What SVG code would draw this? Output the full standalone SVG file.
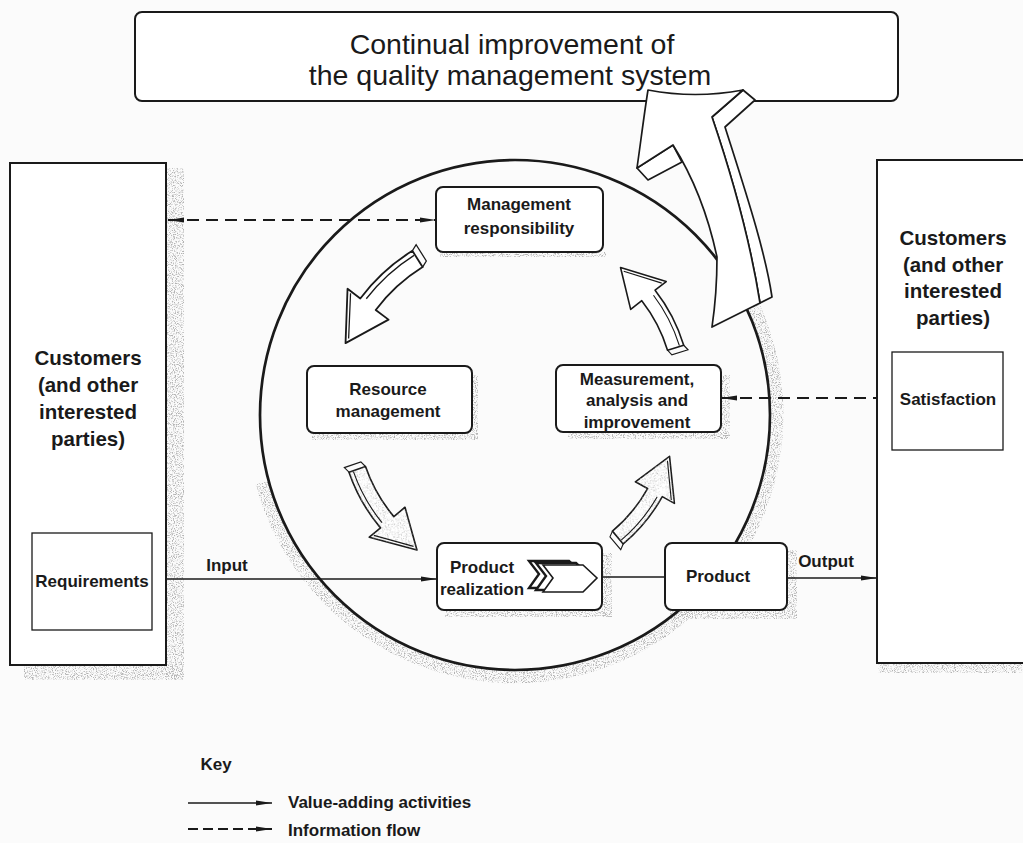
<svg xmlns="http://www.w3.org/2000/svg" width="1023" height="843" viewBox="0 0 1023 843">
<defs>
<style>
.bx{fill:#fff;stroke:#1a1a1a;stroke-width:2}
.sq{fill:#fff;stroke:#1a1a1a;stroke-width:1.3}
.t{font-family:"Liberation Sans",Arial,sans-serif;font-weight:bold;font-size:17px;fill:#1a1a1a;text-anchor:middle}
.tb{font-family:"Liberation Sans",Arial,sans-serif;font-weight:bold;font-size:20.5px;fill:#1a1a1a;text-anchor:middle}
.tt{font-family:"Liberation Sans",Arial,sans-serif;font-size:28.5px;fill:#1a1a1a;text-anchor:middle}
.ln{stroke:#1a1a1a;stroke-width:1.5;fill:none}
.dl{stroke:#1a1a1a;stroke-width:2;fill:none;stroke-dasharray:12 7}
.sh{fill:#888;filter:url(#grain)}
.ar{fill:#fff;stroke:#1a1a1a;stroke-width:1.7;stroke-linejoin:round}
.ad{fill:none;stroke:#1a1a1a;stroke-width:1.2}
</style>
<filter id="grain" x="-5%" y="-5%" width="110%" height="110%">
<feTurbulence type="fractalNoise" baseFrequency="0.9" numOctaves="2" seed="4" result="n"/>
<feColorMatrix in="n" type="matrix" values="0 0 0 0 0.45  0 0 0 0 0.45  0 0 0 0 0.45  0 0 0 4 -1.9" result="d"/>
<feComposite in="d" in2="SourceAlpha" operator="in"/>
</filter>
<filter id="grainfill" x="0" y="0" width="100%" height="100%">
<feTurbulence type="fractalNoise" baseFrequency="0.9" numOctaves="2" seed="9" result="n"/>
<feColorMatrix in="n" type="matrix" values="0 0 0 0 0.5  0 0 0 0 0.5  0 0 0 0 0.5  0 0 0 3 -1.5" result="d"/>
<feComposite in="d" in2="SourceAlpha" operator="in"/>
</filter>
<marker id="ah" viewBox="0 0 16 6" markerWidth="16" markerHeight="6" refX="16" refY="3" orient="auto-start-reverse" markerUnits="userSpaceOnUse">
<path d="M0,0.4 L16,3 L0,5.6 Z" fill="#1a1a1a"/>
</marker>
<path id="cshape" d="M 181,0 A 181 181 0 0 0 169.0,-64.9 L 183.0,-70.2 L 140.9,-98.7 L 138.2,-53.0 L 152.2,-58.4 A 163 163 0 0 1 163,0 Z"/>
<g id="carrow">
<use href="#cshape" class="ar"/>
<path class="ad" d="M 176.5,-1 A 176.5 176.5 0 0 0 165.8,-60.3 M 163,0 L 166,6 L 184,6 L 181,0 M 178,-70 L 143,-94"/>
</g>
<g id="carrowg">
<use href="#cshape" class="ar"/>
<use href="#cshape" fill="#999" filter="url(#grainfill)"/>
<path class="ad" d="M 176.5,-1 A 176.5 176.5 0 0 0 165.8,-60.3 M 163,0 L 166,6 L 184,6 L 181,0 M 178,-70 L 143,-94"/>
</g>
</defs>
<rect x="0" y="0" width="1023" height="843" fill="#fbfbfb"/>

<g id="shadows">
<rect class="sh" x="166" y="168" width="18" height="512"/>
<rect class="sh" x="24" y="665" width="160" height="15"/>
<rect class="sh" x="878" y="663" width="145" height="10"/>
<rect class="sh" x="440" y="252" width="166" height="5"/>
<rect class="sh" x="312" y="433" width="166" height="7"/>
<rect class="sh" x="472" y="375" width="6" height="65"/>
<rect class="sh" x="568" y="432" width="160" height="7"/>
<rect class="sh" x="721" y="375" width="9" height="64"/>
<rect class="sh" x="445" y="610" width="167" height="7"/>
<rect class="sh" x="602" y="553" width="10" height="64"/>
<rect class="sh" x="670" y="610" width="127" height="9"/>
<rect class="sh" x="787" y="550" width="10" height="69"/>
<path d="M 752.5,304.3 A 262 262 0 1 1 261.9,482.8" fill="none" stroke="#888" stroke-width="13" filter="url(#grain)"/>
</g>

<circle id="cycle" cx="515" cy="415" r="255" fill="none" stroke="#1a1a1a" stroke-width="2.7"/>

<g id="connectors">
<path class="dl" d="M 168,220 L 436,220" marker-start="url(#ah)" marker-end="url(#ah)"/>
<path class="dl" d="M 721,398 L 892,398" marker-start="url(#ah)" marker-end="url(#ah)"/>
<path class="ln" d="M 152,579 L 437,579" marker-end="url(#ah)"/>
<path class="ln" d="M 602,577 L 665,577"/>
<path class="ln" d="M 787,578 L 877,578" marker-end="url(#ah)"/>
<text class="t" x="227" y="571">Input</text>
<text class="t" x="826" y="567">Output</text>
</g>

<g id="top">
<rect class="bx" x="135" y="12" width="763" height="89" rx="7"/>
<text class="tt" x="512" y="54">Continual improvement of</text>
<text class="tt" x="510" y="85">the quality management system</text>
</g>

<g id="customers-left">
<rect class="bx" x="10" y="163" width="156" height="502"/>
<text class="tb" x="88" y="365">Customers</text>
<text class="tb" x="88" y="392">(and other</text>
<text class="tb" x="88" y="419">interested</text>
<text class="tb" x="88" y="446">parties)</text>
</g>
<g id="requirements">
<rect class="sq" x="32" y="533" width="120" height="97"/>
<text class="t" x="92" y="587">Requirements</text>
</g>

<g id="customers-right">
<rect class="bx" x="877" y="160" width="160" height="503"/>
<text class="tb" x="953" y="245">Customers</text>
<text class="tb" x="953" y="272">(and other</text>
<text class="tb" x="953" y="298">interested</text>
<text class="tb" x="953" y="325">parties)</text>
</g>
<g id="satisfaction">
<rect class="sq" x="892" y="352" width="111" height="98"/>
<text class="t" x="948" y="405">Satisfaction</text>
</g>

<g id="management">
<rect class="bx" x="436" y="187" width="167" height="65" rx="7"/>
<text class="t" x="519" y="210">Management</text>
<text class="t" x="519" y="234">responsibility</text>
</g>
<g id="resource">
<rect class="bx" x="307" y="366" width="165" height="67" rx="7"/>
<text class="t" x="388" y="395">Resource</text>
<text class="t" x="388" y="417">management</text>
</g>
<g id="measurement">
<rect class="bx" x="556" y="365" width="165" height="67" rx="7"/>
<text class="t" x="637" y="385">Measurement,</text>
<text class="t" x="637" y="406">analysis and</text>
<text class="t" x="637" y="428">improvement</text>
</g>
<g id="realization">
<rect class="bx" x="437" y="543" width="165" height="67" rx="7"/>
<text class="t" x="482" y="573">Product</text>
<text class="t" x="482" y="595">realization</text>
<path d="M 529,561 L 569,561 L 583,574 L 569,588 L 529,588 L 539,574 Z" fill="#fff" stroke="#1a1a1a" stroke-width="2.4"/>
<path d="M 536,563 L 576,563 L 590,576 L 576,590 L 536,590 L 546,576 Z" fill="#fff" stroke="#1a1a1a" stroke-width="2.4"/>
<path d="M 543,565 L 583,565 L 597,578 L 583,592 L 543,592 L 553,578 Z" fill="#fff" stroke="#1a1a1a" stroke-width="1.6"/>
</g>
<g id="product">
<rect class="bx" x="665" y="543" width="122" height="67" rx="7"/>
<text class="t" x="718" y="582">Product</text>
</g>

<g id="cycle-arrows">
<use href="#carrow" transform="translate(515,415) rotate(-122) scale(1.07)"/>
<use href="#carrowg" transform="translate(515,415) rotate(161) scale(0.97)"/>
<use href="#carrowg" transform="translate(515,415) rotate(50) scale(0.93)"/>
<use href="#carrow" transform="translate(521,395) rotate(-17) scale(0.94)"/>
</g>

<g id="improvement-arrow">
<path class="ar" d="M 743,90 L 755,100 L 725,127 C 745,190 765,250 772,297 L 760,303 C 750,240 730,170 712,117 Z"/>
<path class="ar" d="M 637,168 L 648,180 L 682,162 L 673,145 Z"/>
<path class="ar" d="M 648,90 Q 695,99 743,90 L 712,117 C 730,170 750,240 760,303 L 712,327 C 716,300 717,280 717,257 C 708,215 695,180 673,145 L 637,168 C 641,140 644,115 648,90 Z"/>
</g>

<g id="key">
<text class="t" x="216" y="770">Key</text>
<path class="ln" d="M 188,803 L 272,803" marker-end="url(#ah)"/>
<text class="t" x="288" y="808" style="text-anchor:start">Value-adding activities</text>
<path class="dl" d="M 188,829 L 272,829" style="stroke-dasharray:10 5;stroke-width:1.8" marker-end="url(#ah)"/>
<text class="t" x="288" y="836" style="text-anchor:start">Information flow</text>
</g>
</svg>
